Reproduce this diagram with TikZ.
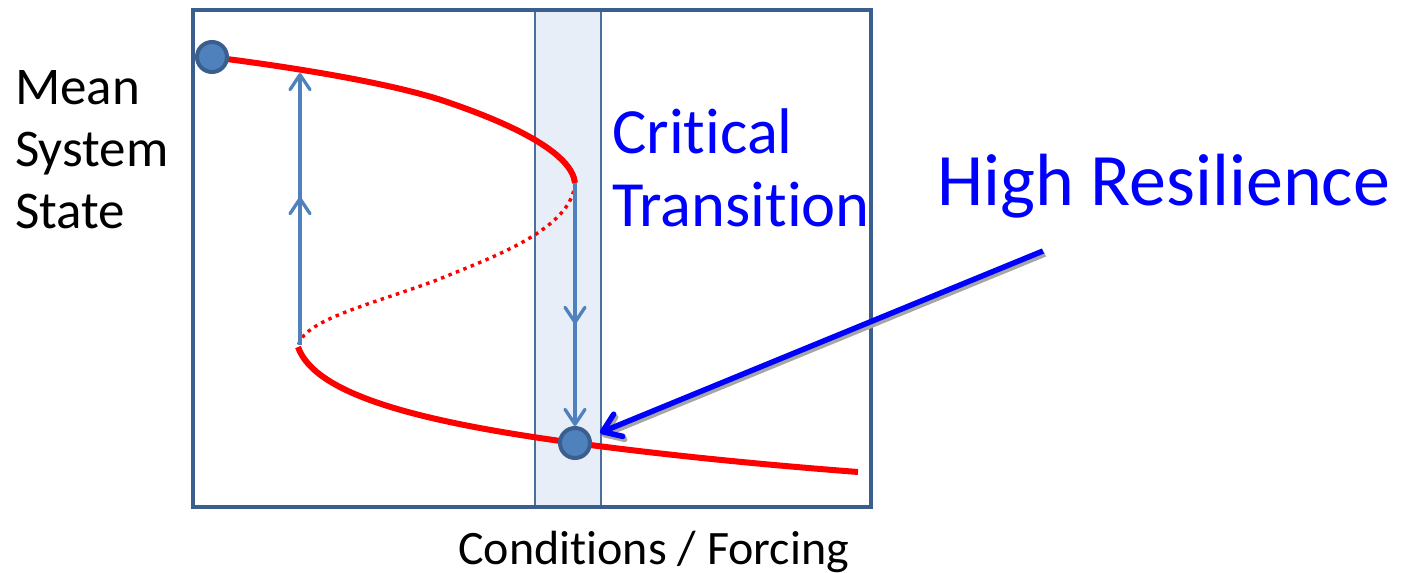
\documentclass[tikz,border=0pt]{standalone}
\usepackage{fontspec}
\setmainfont{Carlito}[Ligatures={NoCommon,NoContextual}]
\usepackage{tikz}
\usetikzlibrary{arrows.meta,decorations.markings}

\definecolor{frameblue}{HTML}{3A5F8F}
\definecolor{jumpblue}{HTML}{4F81BD}
\definecolor{bandfill}{HTML}{E8EEF7}
\definecolor{bandline}{HTML}{4A6F9C}

% break the t-i ligature of Carlito
\newcommand{\tinolig}{t\kern0pt i}

\begin{document}
\begin{tikzpicture}[
    x=1pt, y=-1pt,
    >={Straight Barb[length=15pt,width=20pt,round]},
    frame/.style={
        draw=frameblue,
        line width=4pt
    },
    band/.style={
        draw=bandline,
        line width=1.5pt,
        fill=bandfill
    },
    branch/.style={
        draw=red,
        line width=6pt
    },
    unstable/.style={
        draw=red,
        line width=3.4pt,
        dash pattern=on 3.5pt off 4.5pt
    },
    jump/.style={
        draw=jumpblue,
        line width=3.3pt,
        ->,
        postaction={decorate},
        decoration={markings, mark=at position #1 with {\arrow{>}}}
    },
    state/.style={
        circle,
        draw=frameblue,
        line width=4pt,
        fill=jumpblue,
        minimum size=30pt,
        inner sep=0pt
    },
    pointer/.style={
        draw=#1,
        line width=5.5pt,
        -{Straight Barb[length=17pt,width=24pt,round]},
        shorten >=10pt
    },
    label/.style={
        inner sep=0pt,
        align=left
    }
]
\useasboundingbox (0,0) rectangle (1409,573);

% =========================================================
% plot area
% =========================================================
\draw[band] (535,9) rectangle (601,507);
\draw[frame] (193,10) rectangle (871,507);

% fold points and jump ends
\coordinate (foldTop) at (575,183);
\coordinate (foldBottom) at (298,347);
\coordinate (jumpUpStart) at (300,345);
\coordinate (jumpUpEnd) at (300,73);
\coordinate (branchEnd) at (858,472);

% stable branches
\draw[branch] (211,57) .. controls (300,68) and (400,85) .. (450,103)
    .. controls (520,127) and (572,155) .. (foldTop);
\draw[branch] (foldBottom) .. controls (315,395) and (420,422) .. (575,443)
    .. controls (680,457) and (780,466) .. (branchEnd);

% unstable branch
\draw[unstable] (foldTop) .. controls (572,230) and (490,258) .. (437,280)
    .. controls (370,305) and (302,320) .. (foldBottom);

% states
\node[state] (stateHigh) at (212,57) {};
\node[state] (stateLow) at (575,443) {};

% jumps
\draw[jump=0.544] (jumpUpStart) -- (jumpUpEnd);
\draw[jump=0.58] (foldTop) -- (stateLow.north);

% =========================================================
% labels
% =========================================================
\node[label, anchor=north west, font=\fontsize{53}{62}\selectfont] (yLabel) at (15,70) {Mean\\System\\State};
\node[label, anchor=base west, font=\fontsize{48}{56}\selectfont] (xLabel) at (458,564) {Condi\tinolig ons / Forcing};
\node[label, anchor=north west, text=blue, font=\fontsize{64.5}{73}\selectfont] (critLabel) at (612,109) {Critical\\Transi\tinolig on};
\node[label, anchor=base west, text=blue, font=\fontsize{74}{80}\selectfont] (resLabel) at (937,205) {High Resilience};

% pointer with shadow
\coordinate (resStart) at (1043,251);
\draw[pointer=gray!70, transform canvas={shift={(2,3)}}] (resStart) -- (stateLow);
\draw[pointer=blue] (resStart) -- (stateLow);

\end{tikzpicture}
\end{document}
